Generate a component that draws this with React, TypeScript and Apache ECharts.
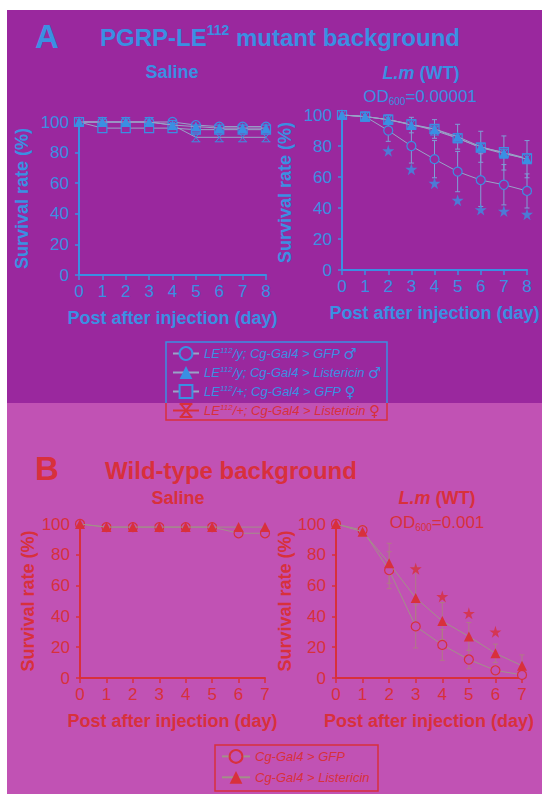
import React, { useEffect, useRef } from 'react';
import * as echarts from 'echarts';

// ---------- data ----------
const daysA = [0, 1, 2, 3, 4, 5, 6, 7, 8];
const daysB = [0, 1, 2, 3, 4, 5, 6, 7];
const yTicks = [0, 20, 40, 60, 80, 100];

const namesA = [
  'LE112/y; Cg-Gal4 > GFP ♂',
  'LE112/y; Cg-Gal4 > Listericin ♂',
  'LE112/+; Cg-Gal4 > GFP ♀',
  'LE112/+; Cg-Gal4 > Listericin ♀',
];
const namesB = ['Cg-Gal4 > GFP', 'Cg-Gal4 > Listericin'];

// Panel A, saline
const aSalGfpMale = [100, 100, 100, 100, 100, 98, 97, 97, 97];
const aSalLstMale = [100, 100, 100, 100, 98, 97, 96, 96, 96];
const aSalGfpFemale = [100, 96, 96, 96, 96, 95, 95, 95, 95];
const aSalLstFemale = [100, 100, 100, 100, 98, 90, 90, 90, 90];

// Panel A, L.m
const aLmGfpMale = [100, 99, 90, 80, 71.5, 63.5, 58, 55, 51];
const aLmGfpMaleErr = [0, 1, 7, 11, 12, 13, 17, 13, 11];
const aLmLstMale = [100, 99, 97, 93.5, 91, 86, 79.5, 75.5, 71.5];
const aLmLstMaleErr = [0, 2, 3, 5, 6, 8, 10, 11, 12];
const aLmGfpFemale = [100, 99, 97, 94, 91, 85, 79, 76, 72];
const aLmLstFemale = [100, 99, 97, 94, 90, 85, 79, 75, 72];
const aLmStarDays = [2, 3, 4, 5, 6, 7, 8];
const aLmStarY = [77, 65, 56, 45, 39, 38, 36];

// Panel B, saline
const bSalGfp = [100, 98, 98, 98, 98, 98, 94, 94];
const bSalLst = [100, 98, 98, 98, 98, 98, 98, 98];

// Panel B, L.m
const bLmGfp = [100, 96, 70, 33.5, 21.5, 12, 5, 2];
const bLmGfpErr = [0, 3, 12, 14, 10, 6, 3, 2];
const bLmLst = [100, 95, 74.5, 52, 37, 27, 16, 8];
const bLmLstErr = [0, 3, 13, 20, 12, 9, 6, 7];
const bLmStarDays = [3, 4, 5, 6];
const bLmStarY = [71, 53, 42, 30];

// ---------- styles ----------
const FONT = '"Liberation Sans", Arial, "DejaVu Sans", sans-serif';
const BG_A = '#9a289e';
const BG_B = '#c152b4';
const BLUE = '#3a8fe3';
const RED = '#d8303c';
const LINE_A = '#98a4c8';
const LINE_B = '#a39088';
const ERR_A = '#7f9fd6';
const ERR_B = '#b07a86';
const X_PATH = 'path://M0,0L10,0M0,10L10,10M1,0L9,10M9,0L1,10';
const STAR_PATH =
  'path://M50,0L61,35L98,35L68,57L79,91L50,70L21,91L32,57L2,35L39,35Z';

const pts = (days: number[], vals: number[]) => days.map((d, i) => [d, vals[i]]);
const errPts = (days: number[], vals: number[], errs: number[]) =>
  days
    .map((d, i) => [d, Math.max(0, vals[i] - errs[i]), Math.min(100, vals[i] + errs[i])])
    .filter((r) => r[2] - r[1] > 0);

type Kind = 'circle' | 'triangle' | 'square' | 'cross';

function symStyle(kind: Kind, color: string, bg: string) {
  if (kind === 'circle') return { symbol: 'circle', symbolSize: 9, itemStyle: { color: bg, borderColor: color, borderWidth: 1.2 } };
  if (kind === 'square') return { symbol: 'rect', symbolSize: 9, itemStyle: { color: bg, borderColor: color, borderWidth: 1.2 } };
  if (kind === 'triangle') return { symbol: 'triangle', symbolSize: 10, itemStyle: { color } };
  return { symbol: X_PATH, symbolSize: 9, itemStyle: { color: 'transparent', borderColor: color, borderWidth: 1 } };
}

function lineS(name: string, idx: number, days: number[], vals: number[], kind: Kind, color: string, bg: string, lineColor: string, z: number) {
  return {
    type: 'line',
    name,
    xAxisIndex: idx,
    yAxisIndex: idx,
    data: pts(days, vals),
    clip: false,
    z,
    lineStyle: { color: lineColor, width: 1 },
    ...symStyle(kind, color, bg),
  };
}

function errS(idx: number, data: number[][], color: string) {
  return {
    type: 'custom',
    xAxisIndex: idx,
    yAxisIndex: idx,
    data,
    z: 1,
    silent: true,
    clip: false,
    encode: { x: 0, y: [1, 2] },
    renderItem: (_p: any, api: any) => {
      const x = api.value(0);
      const lo = api.coord([x, api.value(1)]);
      const hi = api.coord([x, api.value(2)]);
      const w = 2.5;
      const st = { stroke: color, lineWidth: 1 };
      return {
        type: 'group',
        children: [
          { type: 'line', shape: { x1: lo[0], y1: lo[1], x2: hi[0], y2: hi[1] }, style: st },
          { type: 'line', shape: { x1: lo[0] - w, y1: lo[1], x2: lo[0] + w, y2: lo[1] }, style: st },
          { type: 'line', shape: { x1: hi[0] - w, y1: hi[1], x2: hi[0] + w, y2: hi[1] }, style: st },
        ],
      };
    },
  };
}

function starS(idx: number, days: number[], ys: number[], color: string) {
  return {
    type: 'scatter',
    xAxisIndex: idx,
    yAxisIndex: idx,
    data: pts(days, ys),
    symbol: STAR_PATH,
    symbolSize: 12,
    itemStyle: { color },
    z: 5,
    silent: true,
    clip: false,
  };
}

function xAxisOf(idx: number, max: number, color: string) {
  return {
    type: 'value',
    gridIndex: idx,
    min: 0,
    max,
    interval: 1,
    name: 'Post after injection (day)',
    nameLocation: 'middle',
    nameGap: 34,
    nameTextStyle: { color, fontSize: 18, fontWeight: 'bold', fontFamily: FONT },
    axisLine: { show: true, onZero: false, lineStyle: { color, width: 2 } },
    axisTick: { show: true, length: 5, lineStyle: { color, width: 1.5 } },
    axisLabel: { color, fontSize: 17, margin: 8, fontFamily: FONT },
    splitLine: { show: false },
  };
}

function yAxisOf(idx: number, color: string, gap: number) {
  return {
    type: 'value',
    gridIndex: idx,
    min: yTicks[0],
    max: yTicks[yTicks.length - 1],
    interval: yTicks[1] - yTicks[0],
    name: 'Survival rate (%)',
    nameLocation: 'middle',
    nameGap: gap,
    nameTextStyle: { color, fontSize: 18, fontWeight: 'bold', fontFamily: FONT },
    axisLine: { show: true, lineStyle: { color, width: 2 } },
    axisTick: { show: true, length: 4, lineStyle: { color, width: 1.5 } },
    axisLabel: { color, fontSize: 17, margin: 10, fontFamily: FONT },
    splitLine: { show: false },
  };
}

function legendFmtA(name: string) {
  const rest = name.replace('LE112', '');
  const sex = rest.slice(-1);
  const body = rest.slice(0, -1);
  return `{t|LE}{s|112}{t|${body}}{g|${sex}}`;
}

export default function App() {
  const ref = useRef<HTMLDivElement>(null);
  useEffect(() => {
    if (!ref.current) return;
    const chart = echarts.init(ref.current, undefined, { renderer: 'svg' });
    const txt = (x: number, y: number, text: string, rich: any, extra: any = {}) => ({
      type: 'text',
      x,
      y,
      silent: true,
      style: { text, rich, align: 'center', verticalAlign: 'middle', fontFamily: FONT, ...extra },
    });
    const option: any = {
      animation: false,
      textStyle: { fontFamily: FONT },
      grid: [
        { left: 79, top: 122, width: 187, height: 153 },
        { left: 342, top: 115, width: 185, height: 155 },
        { left: 80, top: 524, width: 185, height: 154 },
        { left: 336, top: 524, width: 186, height: 154 },
      ],
      xAxis: [xAxisOf(0, 8, BLUE), xAxisOf(1, 8, BLUE), xAxisOf(2, 7, RED), xAxisOf(3, 7, RED)],
      yAxis: [yAxisOf(0, BLUE, 48), yAxisOf(1, BLUE, 48), yAxisOf(2, RED, 43), yAxisOf(3, RED, 42)],
      legend: [
        {
          orient: 'vertical',
          left: 166,
          top: 343,
          padding: [3, 4, 3, 6],
          itemWidth: 26,
          itemHeight: 16,
          itemGap: 4,
          selectedMode: false,
          formatter: legendFmtA,
          textStyle: {
            fontSize: 13,
            fontStyle: 'italic',
            fontFamily: FONT,
            rich: {
              t: { fontSize: 13, fontStyle: 'italic', fontFamily: FONT, lineHeight: 15 },
              s: { fontSize: 8, fontStyle: 'italic', fontFamily: FONT, verticalAlign: 'top', lineHeight: 9 },
              g: { fontSize: 15, fontFamily: '"DejaVu Sans", sans-serif', lineHeight: 15 },
            },
          },
          data: namesA.map((n, i) =>
            i === 3
              ? { name: n, textStyle: { color: RED }, itemStyle: { borderColor: RED }, lineStyle: { color: RED } }
              : { name: n, textStyle: { color: BLUE } }
          ),
        },
        {
          orient: 'vertical',
          left: 215,
          top: 745,
          padding: [4, 4, 4, 6],
          itemWidth: 28,
          itemHeight: 16,
          itemGap: 7,
          selectedMode: false,
          textStyle: { fontSize: 13, fontStyle: 'italic', fontFamily: FONT, color: RED },
          data: namesB.map((n) => ({ name: n })),
        },
      ],
      graphic: [
        { type: 'rect', z: -100, silent: true, shape: { x: 7, y: 10, width: 535, height: 393 }, style: { fill: BG_A } },
        { type: 'rect', z: -100, silent: true, shape: { x: 7, y: 403, width: 535, height: 391 }, style: { fill: BG_B } },
        // legend A border (two colours)
        { type: 'polyline', silent: true, shape: { points: [[166, 403], [166, 342], [387, 342], [387, 403]] }, style: { stroke: BLUE, lineWidth: 1.5, fill: 'none' } },
        { type: 'polyline', silent: true, shape: { points: [[166, 403], [166, 420], [387, 420], [387, 403]] }, style: { stroke: RED, lineWidth: 1.5, fill: 'none' } },
        { type: 'rect', silent: true, shape: { x: 215, y: 745, width: 163, height: 46 }, style: { stroke: RED, lineWidth: 1.5, fill: 'none' } },
        // Panel A texts
        txt(47, 36, 'A', null, { fontSize: 33, fontWeight: 'bold', fill: BLUE }),
        txt(280, 37, '{t|PGRP-LE}{s|112}{t| mutant background}', {
          t: { fontSize: 24, fontWeight: 'bold', fill: BLUE, fontFamily: FONT, lineHeight: 28 },
          s: { fontSize: 14, fontWeight: 'bold', fill: BLUE, fontFamily: FONT, verticalAlign: 'top', lineHeight: 16 },
        }),
        txt(172, 72, 'Saline', null, { fontSize: 18, fontWeight: 'bold', fill: BLUE }),
        txt(421, 73, '{i|L.m}{n| (WT)}', {
          i: { fontSize: 18, fontWeight: 'bold', fontStyle: 'italic', fill: BLUE, fontFamily: FONT },
          n: { fontSize: 18, fontWeight: 'bold', fill: BLUE, fontFamily: FONT },
        }),
        txt(420, 96, '{n|OD}{s|600}{n|=0.00001}', {
          n: { fontSize: 17, fill: BLUE, fontFamily: FONT, lineHeight: 20 },
          s: { fontSize: 10, fill: BLUE, fontFamily: FONT, verticalAlign: 'bottom', lineHeight: 12 },
        }),
        // Panel B texts
        txt(47, 468, 'B', null, { fontSize: 33, fontWeight: 'bold', fill: RED }),
        txt(231, 470, 'Wild-type background', null, { fontSize: 24, fontWeight: 'bold', fill: RED }),
        txt(178, 498, 'Saline', null, { fontSize: 18, fontWeight: 'bold', fill: RED }),
        txt(437, 498, '{i|L.m}{n| (WT)}', {
          i: { fontSize: 18, fontWeight: 'bold', fontStyle: 'italic', fill: RED, fontFamily: FONT },
          n: { fontSize: 18, fontWeight: 'bold', fill: RED, fontFamily: FONT },
        }),
        txt(437, 522, '{n|OD}{s|600}{n|=0.001}', {
          n: { fontSize: 17, fill: RED, fontFamily: FONT, lineHeight: 20 },
          s: { fontSize: 10, fill: RED, fontFamily: FONT, verticalAlign: 'bottom', lineHeight: 12 },
        }),
      ],
      series: [
        // A saline
        lineS(namesA[0], 0, daysA, aSalGfpMale, 'circle', BLUE, BG_A, LINE_A, 3),
        lineS(namesA[2], 0, daysA, aSalGfpFemale, 'square', BLUE, BG_A, LINE_A, 3),
        lineS(namesA[3], 0, daysA, aSalLstFemale, 'cross', BLUE, BG_A, LINE_A, 3),
        lineS(namesA[1], 0, daysA, aSalLstMale, 'triangle', BLUE, BG_A, LINE_A, 4),
        // A L.m
        errS(1, errPts(daysA, aLmGfpMale, aLmGfpMaleErr), ERR_A),
        errS(1, errPts(daysA, aLmLstMale, aLmLstMaleErr), ERR_A),
        lineS(namesA[0], 1, daysA, aLmGfpMale, 'circle', BLUE, BG_A, LINE_A, 3),
        lineS(namesA[2], 1, daysA, aLmGfpFemale, 'square', BLUE, BG_A, LINE_A, 3),
        lineS(namesA[3], 1, daysA, aLmLstFemale, 'cross', BLUE, BG_A, LINE_A, 3),
        lineS(namesA[1], 1, daysA, aLmLstMale, 'triangle', BLUE, BG_A, LINE_A, 4),
        starS(1, aLmStarDays, aLmStarY, BLUE),
        // B saline
        lineS(namesB[0], 2, daysB, bSalGfp, 'circle', RED, BG_B, LINE_B, 3),
        lineS(namesB[1], 2, daysB, bSalLst, 'triangle', RED, BG_B, LINE_B, 4),
        // B L.m
        errS(3, errPts(daysB, bLmGfp, bLmGfpErr), ERR_B),
        errS(3, errPts(daysB, bLmLst, bLmLstErr), ERR_B),
        lineS(namesB[0], 3, daysB, bLmGfp, 'circle', RED, BG_B, LINE_B, 3),
        lineS(namesB[1], 3, daysB, bLmLst, 'triangle', RED, BG_B, LINE_B, 4),
        starS(3, bLmStarDays, bLmStarY, RED),
      ],
    };
    chart.setOption(option);
    return () => chart.dispose();
  }, []);
  return (
    <div
      ref={ref}
      style={{ position: 'absolute', left: 0, top: 0, width: 542, height: 794 }}
    />
  );
}
